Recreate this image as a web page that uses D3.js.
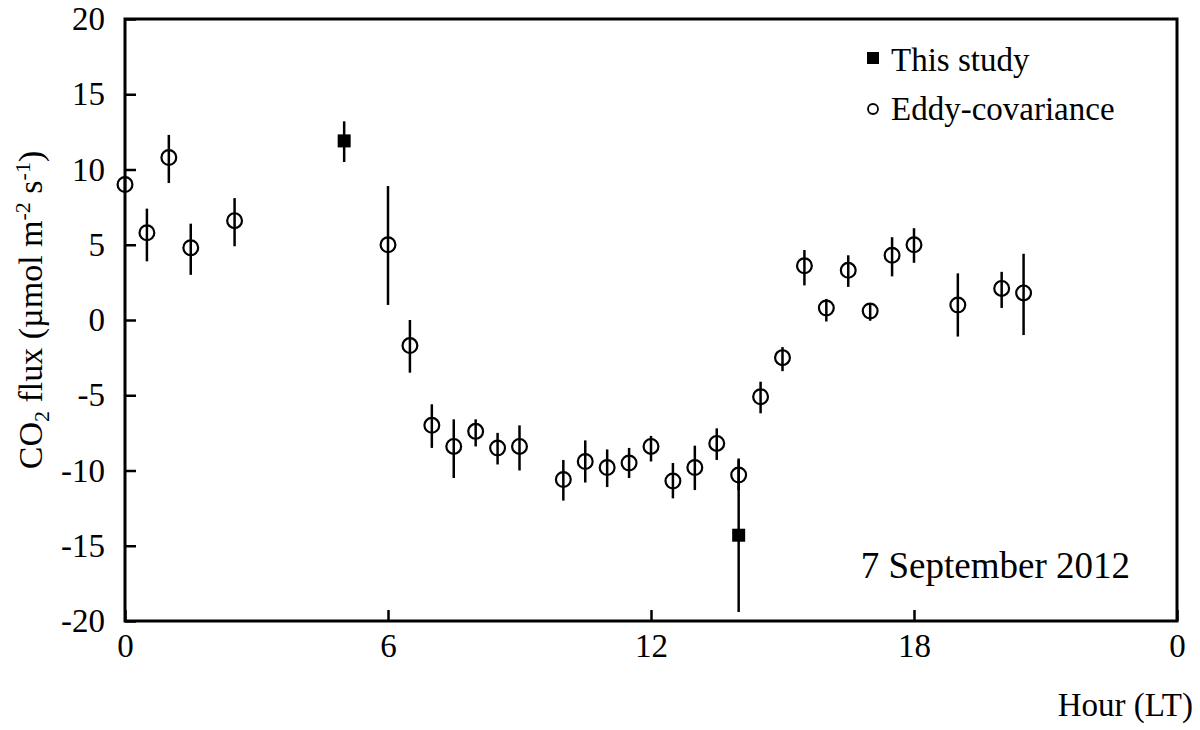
<!DOCTYPE html>
<html>
<head>
<meta charset="utf-8">
<script src="https://cdn.jsdelivr.net/npm/d3@7"></script>
<style>
  html, body { margin: 0; padding: 0; background: #fff; }
  svg { display: block; }
  text { font-family: "Liberation Serif", "Times New Roman", serif; fill: #000; }
</style>
</head>
<body>
<svg id="chart" width="1200" height="730"></svg>
<script>
// ---- data ----
const eddyHours = [0, 0.5, 1, 1.5, 2.5, 6, 6.5, 7, 7.5, 8, 8.5, 9, 10, 10.5, 11, 11.5, 12, 12.5, 13, 13.5, 14, 14.5, 15, 15.5, 16, 16.5, 17, 17.5, 18, 19, 20, 20.5];
const eddyValues = [9.0, 5.8, 10.8, 4.8, 6.6, 5.0, -1.7, -7.0, -8.4, -7.4, -8.5, -8.4, -10.6, -9.4, -9.8, -9.5, -8.4, -10.7, -9.8, -8.2, -10.3, -5.1, -2.5, 3.6, 0.8, 3.3, 0.6, 4.3, 5.0, 1.0, 2.1, 1.8];
const eddyUpper = [9.4, 7.4, 12.3, 6.4, 8.1, 8.9, 0.0, -5.6, -6.6, -6.6, -7.5, -7.0, -9.3, -8.0, -8.6, -8.5, -7.7, -9.5, -8.35, -7.2, -9.3, -4.1, -1.8, 4.65, 1.4, 4.3, 1.1, 5.5, 6.1, 3.1, 3.2, 4.4];
const eddyLower = [8.6, 3.9, 9.1, 3.0, 4.9, 1.0, -3.5, -8.5, -10.5, -8.4, -9.6, -10.0, -12.0, -10.8, -11.1, -10.5, -9.4, -11.85, -11.3, -9.3, -11.3, -6.2, -3.4, 2.3, -0.1, 2.2, -0.05, 2.9, 3.8, -1.1, 0.8, -1.0];

const studyHours = [5, 14];
const studyValues = [11.9, -14.3];
const studyUpper = [13.2, -9.2];
const studyLower = [10.5, -19.4];

const xTickValues = [0, 6, 12, 18, 24];
const xTickLabels = ["0", "6", "12", "18", "0"];
const yTickValues = [-20, -15, -10, -5, 0, 5, 10, 15, 20];
const yTickLabels = ["-20", "-15", "-10", "-5", "0", "5", "10", "15", "20"];

const legendLabels = ["This study", "Eddy-covariance"];
const dateLabel = "7 September 2012";

// ---- layout ----
const FONT = "'Liberation Serif', 'Times New Roman', serif";
const svg = d3.select("#chart");
const mLeft = 125, mRight = 1177, mTop = 19, mBottom = 621;

const x = d3.scaleLinear().domain([0, 24]).range([mLeft, mRight]);
const y = d3.scaleLinear().domain([-20, 20]).range([mBottom, mTop]);

// axes
const yAxis = d3.axisLeft(y).tickValues(yTickValues).tickSize(-11).tickPadding(20)
  .tickFormat((d, i) => yTickLabels[i]);
const gy = svg.append("g").attr("transform", `translate(${mLeft},0)`).call(yAxis)
  .attr("font-family", FONT).attr("font-size", 33);
gy.select(".domain").remove();
gy.selectAll(".tick line").attr("stroke", "#000").attr("stroke-width", 2.5);
gy.selectAll(".tick text").attr("fill", "#000");

const xAxis = d3.axisBottom(x).tickValues(xTickValues).tickSize(-11).tickPadding(13)
  .tickFormat((d, i) => xTickLabels[i]);
const gx = svg.append("g").attr("transform", `translate(0,${mBottom})`).call(xAxis)
  .attr("font-family", FONT).attr("font-size", 33);
gx.select(".domain").remove();
gx.selectAll(".tick line").attr("stroke", "#000").attr("stroke-width", 2.5);
gx.selectAll(".tick text").attr("fill", "#000");

// frame
svg.append("rect")
  .attr("x", mLeft).attr("y", mTop)
  .attr("width", mRight - mLeft).attr("height", mBottom - mTop)
  .attr("fill", "none").attr("stroke", "#000").attr("stroke-width", 3);

const eddy = eddyHours.map((h, i) => ({ h, v: eddyValues[i], hi: eddyUpper[i], lo: eddyLower[i] }));
const study = studyHours.map((h, i) => ({ h, v: studyValues[i], hi: studyUpper[i], lo: studyLower[i] }));

// eddy covariance
svg.append("g").selectAll("line").data(eddy).join("line")
  .attr("x1", d => x(d.h)).attr("x2", d => x(d.h))
  .attr("y1", d => y(d.hi)).attr("y2", d => y(d.lo))
  .attr("stroke", "#000").attr("stroke-width", 2.5);

svg.append("g").selectAll("circle").data(eddy).join("circle")
  .attr("cx", d => x(d.h)).attr("cy", d => y(d.v)).attr("r", 7.4)
  .attr("fill", "none").attr("stroke", "#000").attr("stroke-width", 2.2);

// this study
svg.append("g").selectAll("line").data(study).join("line")
  .attr("x1", d => x(d.h)).attr("x2", d => x(d.h))
  .attr("y1", d => y(d.hi)).attr("y2", d => y(d.lo))
  .attr("stroke", "#000").attr("stroke-width", 2.5);

const sq = 13;
svg.append("g").selectAll("rect").data(study).join("rect")
  .attr("x", d => x(d.h) - sq / 2).attr("y", d => y(d.v) - sq / 2)
  .attr("width", sq).attr("height", sq).attr("fill", "#000");

// legend
const lg = svg.append("g").attr("font-family", FONT);
lg.append("rect").attr("x", 867).attr("y", 52).attr("width", 12).attr("height", 12).attr("fill", "#000");
lg.append("text").attr("x", 891).attr("y", 71).attr("font-size", 33).text(legendLabels[0]);
lg.append("circle").attr("cx", 873).attr("cy", 109).attr("r", 5).attr("fill", "none").attr("stroke", "#000").attr("stroke-width", 1.8);
lg.append("text").attr("x", 891).attr("y", 120).attr("font-size", 33).text(legendLabels[1]);

// date annotation
svg.append("text").attr("x", 1130).attr("y", 578).attr("text-anchor", "end")
  .attr("font-family", FONT).attr("font-size", 37).text(dateLabel);

// x axis title
svg.append("text").attr("x", 1193).attr("y", 716).attr("text-anchor", "end")
  .attr("font-family", FONT).attr("font-size", 33).text("Hour (LT)");

// y axis title
const yt = svg.append("text")
  .attr("transform", "translate(42,310) rotate(-90)")
  .attr("text-anchor", "middle")
  .attr("font-family", FONT)
  .attr("font-size", 34);
yt.append("tspan").text("CO");
yt.append("tspan").attr("font-size", 22).attr("dy", 7).text("2");
yt.append("tspan").attr("dy", -7).text(" flux (\u00B5mol m");
yt.append("tspan").attr("font-size", 22).attr("dy", -12).text("-2");
yt.append("tspan").attr("dy", 12).text(" s");
yt.append("tspan").attr("font-size", 22).attr("dy", -12).text("-1");
yt.append("tspan").attr("dy", 12).text(")");
</script>
</body>
</html>
